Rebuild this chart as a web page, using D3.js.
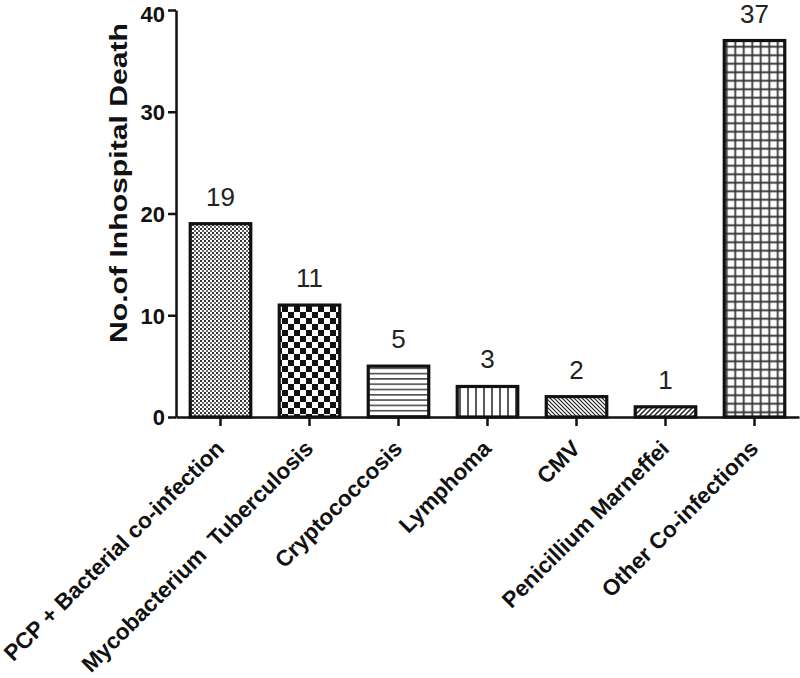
<!DOCTYPE html>
<html><head><meta charset="utf-8">
<script src="https://cdn.jsdelivr.net/npm/d3@7"></script>
<style>body{margin:0;background:#fff}svg{display:block}text{font-family:"Liberation Sans",Arial,sans-serif}</style>
</head><body>
<svg id="c" width="800" height="678"></svg>
<script>
const categories = ["PCP + Bacterial co-infection","Mycobacterium  Tuberculosis","Cryptococcosis","Lymphoma","CMV","Penicillium Marneffei","Other Co-infections"];
const values = [19, 11, 5, 3, 2, 1, 37];
const patternIds = ["pFine","pChecker","pHoriz","pVert","pDiagB","pDiagF","pGrid"];
const yTicks = [0, 10, 20, 30, 40];
const yTitle = "No.of Inhospital Death";

const svg = d3.select("#c");
const defs = svg.append("defs");
function pat(id, w, h, draw){
  const p = defs.append("pattern").attr("id", id).attr("patternUnits","userSpaceOnUse").attr("width", w).attr("height", h);
  p.append("rect").attr("width", w).attr("height", h).attr("fill", "#fff");
  draw(p);
}
pat("pFine", 4, 4, p => { p.append("rect").attr("x",0).attr("y",0).attr("width",2).attr("height",2).attr("fill","#333");
  p.append("rect").attr("x",2).attr("y",2).attr("width",2).attr("height",2).attr("fill","#666"); });
pat("pChecker", 12, 12, p => { p.append("rect").attr("x",0).attr("y",0).attr("width",6).attr("height",6).attr("fill","#111");
  p.append("rect").attr("x",6).attr("y",6).attr("width",6).attr("height",6).attr("fill","#111"); });
pat("pHoriz", 10, 5.3, p => p.append("line").attr("x1",0).attr("x2",10).attr("y1",2.6).attr("y2",2.6).attr("stroke","#222").attr("stroke-width",1.3));
pat("pVert", 8, 10, p => p.append("line").attr("y1",0).attr("y2",10).attr("x1",4).attr("x2",4).attr("stroke","#222").attr("stroke-width",1.5));
pat("pDiagB", 4, 4, p => { p.append("path").attr("d","M0,0L4,4M-1,3L1,5M3,-1L5,1").attr("stroke","#222").attr("stroke-width",1.2); });
pat("pDiagF", 5, 5, p => { p.append("path").attr("d","M0,5L5,0M-1,1L1,-1M4,6L6,4").attr("stroke","#222").attr("stroke-width",1.5); });
pat("pGrid", 8.5, 8.5, p => { p.append("path").attr("d","M4.25,0V8.5M0,4.25H8.5").attr("stroke","#333").attr("stroke-width",1.8).attr("fill","none"); });

const x = d3.scaleBand().domain(categories).range([176, 799]).paddingInner(0.32).paddingOuter(0.16);
const y = d3.scaleLinear().domain([0, 40]).range([417, 10]);

const g = svg.append("g");
g.selectAll("rect.bar").data(values).join("rect").attr("class","bar")
  .attr("x", (d,i) => x(categories[i])).attr("width", x.bandwidth())
  .attr("y", d => y(d)).attr("height", d => y(0) - y(d))
  .attr("fill", (d,i) => `url(#${patternIds[i]})`)
  .attr("stroke", "#111").attr("stroke-width", 3.2);

g.selectAll("text.val").data(values).join("text").attr("class","val")
  .attr("x", (d,i) => x(categories[i]) + x.bandwidth()/2)
  .attr("y", d => y(d) - 18)
  .attr("text-anchor","middle").attr("font-size", 26).attr("fill","#222")
  .text(d => d);

// y axis
const ya = svg.append("g").attr("transform","translate(176,0)")
  .call(d3.axisLeft(y).tickValues(yTicks).tickSize(8).tickSizeOuter(0).tickPadding(3));
ya.select(".domain").attr("stroke","#111").attr("stroke-width",2.5);
ya.selectAll(".tick line").attr("stroke","#111").attr("stroke-width",2.5);
ya.selectAll(".tick text").attr("font-size",22).attr("font-weight","bold").attr("fill","#111")
  .attr("dy", d => d === 40 ? "0.5em" : "0.36em");

// x axis
const xa = svg.append("g").attr("transform","translate(0,417)")
  .call(d3.axisBottom(x).tickSize(9).tickSizeOuter(0).tickPadding(0));
xa.select(".domain").attr("stroke","#111").attr("stroke-width",2.5);
xa.selectAll(".tick line").attr("stroke","#111").attr("stroke-width",2.5);
xa.selectAll(".tick text").attr("font-size",22.5).attr("font-weight","bold").attr("fill","#111")
  .style("white-space","pre")
  .attr("text-anchor","end").attr("dy",null).attr("y",0)
  .attr("transform","translate(5,33) rotate(-45)");

svg.append("text").attr("transform","translate(127,183) rotate(-90)")
  .attr("text-anchor","middle").attr("font-size",24).attr("font-weight","bold").attr("fill","#111")
  .attr("textLength",320).attr("lengthAdjust","spacingAndGlyphs").text(yTitle);
</script>
</body></html>
